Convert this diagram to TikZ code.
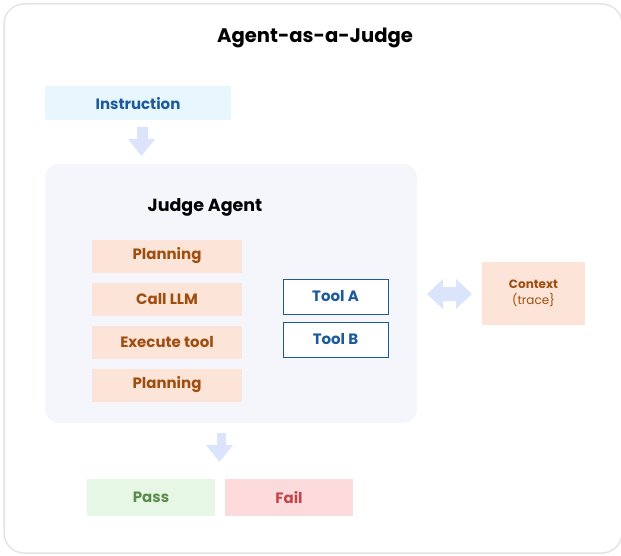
\documentclass[tikz,border=0pt]{standalone}
\usepackage{fontspec}
\setmainfont{Poppins}
\definecolor{outerc}{HTML}{E4E4E4}
\definecolor{panelc}{HTML}{F4F6FB}
\definecolor{instrf}{HTML}{E8F6FE}
\definecolor{bluet}{HTML}{1D5A9C}
\definecolor{arrowc}{HTML}{DCE4FC}
\definecolor{orangef}{HTML}{FCE5D8}
\definecolor{oranget}{HTML}{A04E10}
\definecolor{passf}{HTML}{E7F7E5}
\definecolor{passt}{HTML}{5B8C4B}
\definecolor{failf}{HTML}{FDDADB}
\definecolor{failt}{HTML}{C0474A}
\tikzset{
  plainbox/.style={draw=none, inner sep=0pt, font=\bfseries\fontsize{15}{17}\selectfont},
  stepbox/.style={plainbox, fill=orangef, text=oranget, minimum width=150pt, minimum height=33pt},
  toolbox/.style={plainbox, fill=white, draw=bluet, line width=1pt, text=bluet, minimum width=105pt, minimum height=35pt},
  fatarrow/.style={fill=arrowc, draw=none},
}
\begin{document}
\begin{tikzpicture}[x=1pt, y=-1pt]
\useasboundingbox (0,0) rectangle (621,556);
% outer frame
\draw[outerc, line width=1.5pt, rounded corners=20pt] (4,4) rectangle (622,553);
\node[font=\bfseries\fontsize{19.6}{24}\selectfont, text=black] (title) at (315,37.5) {Agent-as-a-Judge};

% instruction
\node[plainbox, fill=instrf, text=bluet, minimum width=186pt, minimum height=34pt] (instr) at (138,103.5) {Instruction};

% panel
\fill[panelc, rounded corners=14pt] (45,164) rectangle (417,423);
\node[font=\bfseries\fontsize{17.5}{20}\selectfont, text=black] (judge) at (205,207) {Judge Agent};

% arrow 1
\fill[fatarrow] (137,127) -- (148,127) -- (148,139) -- (155,139) -- (141.5,156) -- (128,139) -- (137,139) -- cycle;

\node[stepbox] (p1) at (167,256) {Planning};
\node[stepbox] (call) at (167,299) {Call LLM};
\node[stepbox] (exec) at (167,342) {Execute tool};
\node[stepbox] (p2) at (167,385) {Planning};

\node[toolbox] (ta) at (335.5,296.5) {Tool A};
\node[toolbox] (tb) at (335.5,339.5) {Tool B};

% double arrow
\fill[fatarrow] (427,294) -- (443,279) -- (443,287) -- (456,287) -- (456,279) -- (472,294) -- (456,309) -- (456,301) -- (443,301) -- (443,309) -- cycle;

\node[plainbox, fill=orangef, text=oranget, minimum width=103pt, minimum height=63pt, align=center, font=\fontsize{12}{16}\selectfont] (ctx) at (533.5,293.5) {\textbf{Context}\\(trace\}};

% arrow 2
\fill[fatarrow] (217,433) -- (226,433) -- (226,445) -- (233,445) -- (219.5,462) -- (206,445) -- (217,445) -- cycle;

\node[plainbox, fill=passf, text=passt, minimum width=128pt, minimum height=37pt] (pass) at (151,497.5) {Pass};
\node[plainbox, fill=failf, text=failt, minimum width=128pt, minimum height=37pt] (fail) at (289,497.5) {Fail};
\end{tikzpicture}
\end{document}
